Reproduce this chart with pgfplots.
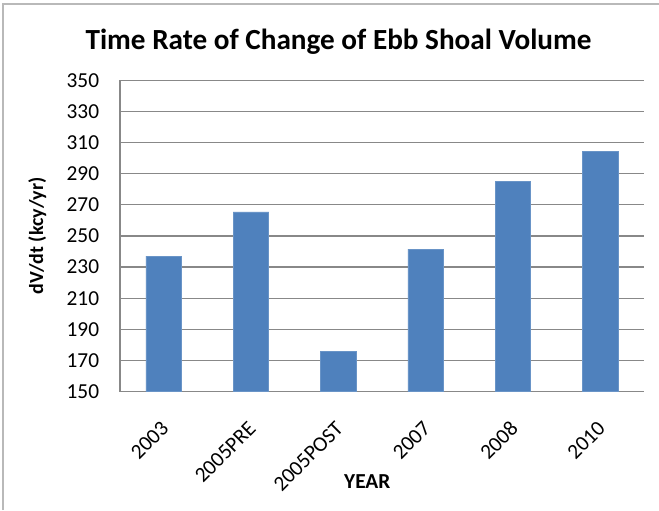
\documentclass[border=0pt]{standalone}
\usepackage{pgfplots}
\pgfplotsset{compat=1.18}
\usepackage{fontspec}
\setmainfont{Carlito}
\definecolor{barblue}{HTML}{4F81BD}
\definecolor{gridgray}{HTML}{888888}
\begin{document}
\begin{tikzpicture}
\path[use as bounding box] (0pt,0pt) rectangle (494.25pt,382.5pt);
\draw[gray!55,line width=1.5pt] (2.25pt,0pt) -- (2.25pt,379.5pt) -- (494.25pt,379.5pt);
\node[font=\fontsize{21.9}{26}\selectfont\bfseries] at (253.9pt,351pt) {Time Rate of Change of Ebb Shoal Volume};
\begin{axis}[
  at={(90pt,88.875pt)}, anchor=south west,
  scale only axis, width=393pt, height=233.25pt,
  xmin=-0.5, xmax=5.5, ymin=150, ymax=350,
  ytick={150,170,...,350},
  xtick={0,1,2,3,4,5},
  xticklabels={2003,2005PRE,2005POST,2007,2008,2010},
  axis x line*=bottom, axis y line*=left,
  axis line style={gridgray, line width=0.9pt, -},
  ymajorgrids, grid style={gridgray, line width=0.9pt},
  major tick length=0pt,
  tick style={draw=none},
  /pgf/number format/assume math mode=true,
  ticklabel style={font=\fontsize{16}{19}\selectfont},
  yticklabel style={anchor=east, inner sep=0pt, xshift=-15.5pt},
  xticklabel style={inner sep=0pt, xshift=1pt, yshift=-25pt, rotate=45, anchor=east},
  ylabel={dV/dt (kcy/yr)},
  ylabel style={font=\fontsize{15}{18}\selectfont\bfseries, at={(axis description cs:-0.158,0.5)}, anchor=center},
  xlabel={YEAR},
  xlabel style={font=\fontsize{16}{19}\selectfont\bfseries, at={(axis description cs:0.472,-0.291)}, anchor=center},
  clip=false,
]
\addplot[ybar, bar width=26.7pt, fill=barblue, draw=barblue!85!white, line width=0.5pt] coordinates {
  (0,237) (1,265.5) (2,176) (3,241.5) (4,285) (5,304.5)
};
\end{axis}
\end{tikzpicture}
\end{document}
